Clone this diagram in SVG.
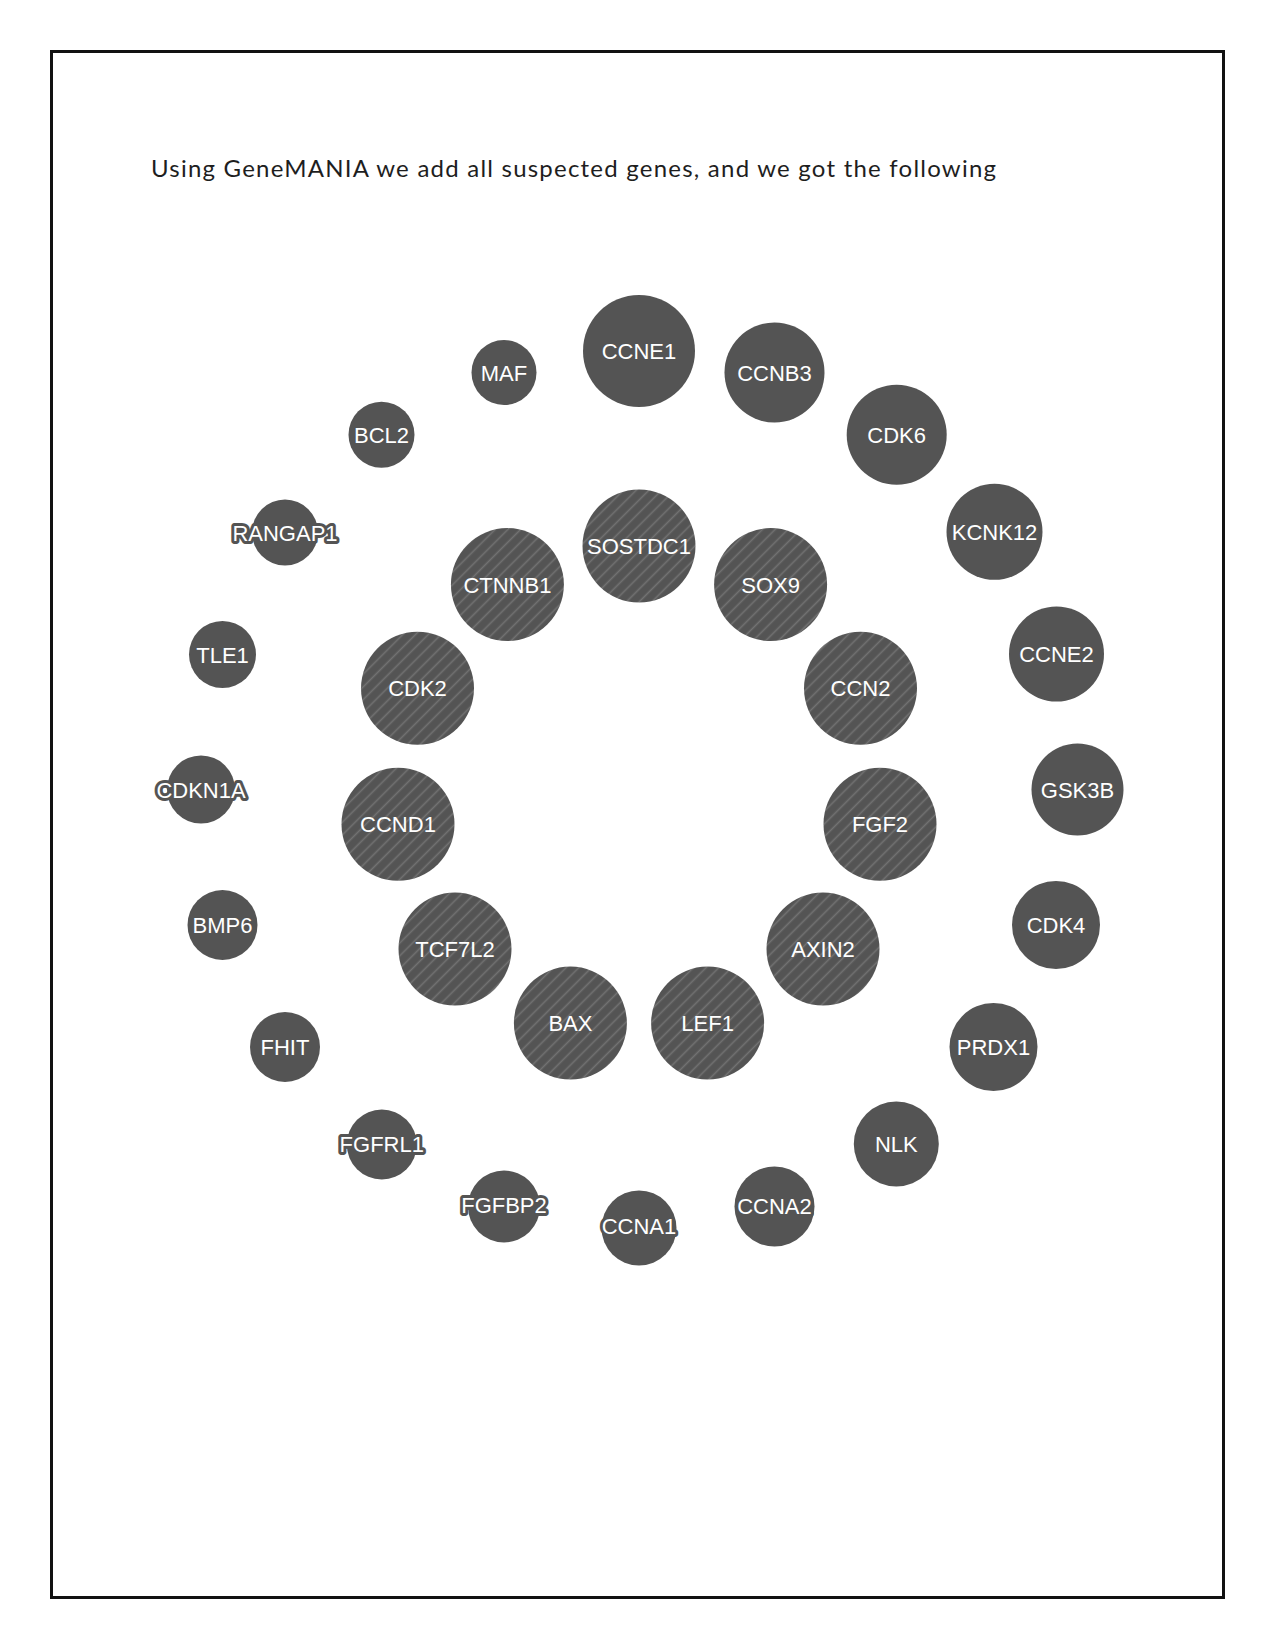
<svg xmlns="http://www.w3.org/2000/svg" width="1275" height="1650" viewBox="0 0 1275 1650">
<style>
.n{fill:#545454}
.h{fill:url(#hatch)}
.t{font-family:"Liberation Sans",Arial,sans-serif;font-size:22px;fill:#ffffff;text-anchor:middle}
.o{stroke:#545454;stroke-width:6;stroke-linejoin:round;paint-order:stroke}
.title{font-family:Lato,"Open Sans",sans-serif;font-size:24px;fill:#1e1e1e}
</style>
<defs>
<pattern id="hatch" patternUnits="userSpaceOnUse" width="9" height="9" patternTransform="rotate(45)">
<rect width="9" height="9" fill="#545454"/>
<line x1="4.5" y1="0" x2="4.5" y2="9" stroke="#727272" stroke-width="1.6"/>
</pattern>
</defs>
<rect x="0" y="0" width="1275" height="1650" fill="#ffffff"/>
<rect x="51.5" y="51.5" width="1172" height="1546" fill="none" stroke="#111111" stroke-width="3"/>
<text class="title" x="151" y="177" textLength="845" lengthAdjust="spacing">Using GeneMANIA we add all suspected genes, and we got the following</text>
<g id="connectors"/>
<g id="nodes">
<g id="SOSTDC1"><circle class="h" cx="639" cy="546" r="56.5"/><text class="t" x="639" y="554">SOSTDC1</text></g>
<g id="SOX9"><circle class="h" cx="770.6" cy="584.6" r="56.5"/><text class="t" x="770.6" y="592.6">SOX9</text></g>
<g id="CCN2"><circle class="h" cx="860.5" cy="688.3" r="56.5"/><text class="t" x="860.5" y="696.3">CCN2</text></g>
<g id="FGF2"><circle class="h" cx="880" cy="824.2" r="56.5"/><text class="t" x="880" y="832.2">FGF2</text></g>
<g id="AXIN2"><circle class="h" cx="823" cy="949" r="56.5"/><text class="t" x="823" y="957">AXIN2</text></g>
<g id="LEF1"><circle class="h" cx="707.6" cy="1023.1" r="56.5"/><text class="t" x="707.6" y="1031.1">LEF1</text></g>
<g id="BAX"><circle class="h" cx="570.4" cy="1023.1" r="56.5"/><text class="t" x="570.4" y="1031.1">BAX</text></g>
<g id="TCF7L2"><circle class="h" cx="455" cy="949" r="56.5"/><text class="t" x="455" y="957">TCF7L2</text></g>
<g id="CCND1"><circle class="h" cx="398" cy="824.2" r="56.5"/><text class="t" x="398" y="832.2">CCND1</text></g>
<g id="CDK2"><circle class="h" cx="417.5" cy="688.3" r="56.5"/><text class="t" x="417.5" y="696.3">CDK2</text></g>
<g id="CTNNB1"><circle class="h" cx="507.4" cy="584.6" r="56.5"/><text class="t" x="507.4" y="592.6">CTNNB1</text></g>

<g id="CCNE1"><circle class="n" cx="639" cy="351" r="56"/><text class="t" x="639" y="359">CCNE1</text></g>
<g id="CCNB3"><circle class="n" cx="774.5" cy="372.5" r="50"/><text class="t" x="774.5" y="380.5">CCNB3</text></g>
<g id="CDK6"><circle class="n" cx="896.7" cy="434.7" r="50"/><text class="t" x="896.7" y="442.7">CDK6</text></g>
<g id="KCNK12"><circle class="n" cx="994.5" cy="531.8" r="48"/><text class="t" x="994.5" y="539.8">KCNK12</text></g>
<g id="CCNE2"><circle class="n" cx="1056.5" cy="654" r="47.5"/><text class="t" x="1056.5" y="662">CCNE2</text></g>
<g id="GSK3B"><circle class="n" cx="1077.5" cy="789.5" r="46"/><text class="t" x="1077.5" y="797.5">GSK3B</text></g>
<g id="CDK4"><circle class="n" cx="1056" cy="925" r="44"/><text class="t" x="1056" y="933">CDK4</text></g>
<g id="PRDX1"><circle class="n" cx="993.5" cy="1047" r="44"/><text class="t" x="993.5" y="1055">PRDX1</text></g>
<g id="NLK"><circle class="n" cx="896.3" cy="1144" r="42.5"/><text class="t" x="896.3" y="1152">NLK</text></g>
<g id="CCNA2"><circle class="n" cx="774.5" cy="1206.5" r="40"/><text class="t o" x="774.5" y="1214">CCNA2</text></g>
<g id="CCNA1"><circle class="n" cx="639" cy="1228" r="37.5"/><text class="t o" x="639" y="1234">CCNA1</text></g>
<g id="FGFBP2"><circle class="n" cx="504" cy="1206.5" r="36"/><text class="t o" x="504" y="1213">FGFBP2</text></g>
<g id="FGFRL1"><circle class="n" cx="381.8" cy="1144.5" r="35"/><text class="t o" x="381.8" y="1152">FGFRL1</text></g>
<g id="FHIT"><circle class="n" cx="285" cy="1047" r="35"/><text class="t" x="285" y="1055">FHIT</text></g>
<g id="BMP6"><circle class="n" cx="222.5" cy="925" r="35"/><text class="t" x="222.5" y="933">BMP6</text></g>
<g id="CDKN1A"><circle class="n" cx="201" cy="789.5" r="34"/><text class="t o" x="201" y="797.5">CDKN1A</text></g>
<g id="TLE1"><circle class="n" cx="222.5" cy="654.5" r="33.5"/><text class="t" x="222.5" y="662.5">TLE1</text></g>
<g id="RANGAP1"><circle class="n" cx="285" cy="532.5" r="33"/><text class="t o" x="285" y="540.5">RANGAP1</text></g>
<g id="BCL2"><circle class="n" cx="381.5" cy="434.7" r="33"/><text class="t" x="381.5" y="442.7">BCL2</text></g>
<g id="MAF"><circle class="n" cx="504" cy="372.5" r="32.5"/><text class="t" x="504" y="380.5">MAF</text></g>
</g>
</svg>
